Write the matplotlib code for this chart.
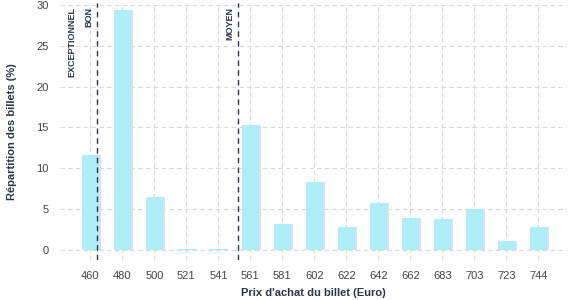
import matplotlib
matplotlib.use("Agg")
import matplotlib.pyplot as plt

prices = ["460", "480", "500", "521", "541", "561", "581", "602", "622",
          "642", "662", "683", "703", "723", "744"]
shares = [11.6, 29.4, 6.5, 0.1, 0.1, 15.3, 3.1, 8.3, 2.8, 5.7, 3.9, 3.7, 5.0, 1.1, 2.8]

# seuils (position sur l'axe des categories)
threshold_names = ["BON", "MOYEN"]
threshold_pos = [0.22, 4.62]

plt.rcParams["font.family"] = ["Liberation Sans", "DejaVu Sans"]
navy = "#2b3648"

fig = plt.figure(figsize=(5.77, 3.0), dpi=100)
ax = fig.add_axes([0.104, 0.133, 0.879, 0.857])

x = list(range(len(prices)))
ax.bar([i + 0.05 for i in x], shares, width=0.55, color="#e0e0e0", zorder=2)
ax.bar(x, shares, width=0.55, color="#aeeef8", zorder=3)

for name, pos in zip(threshold_names, threshold_pos):
    ax.axvline(pos, color=navy, linestyle=(0, (4, 3)), linewidth=1, zorder=4)
    ax.text(pos - 0.12, 29.8, name, rotation=90, ha="right", va="top",
            fontsize=6.5, fontweight="bold", color=navy)
ax.text(-0.45, 29.8, "EXCEPTIONNEL", rotation=90, ha="right", va="top",
        fontsize=6.5, fontweight="bold", color=navy)

ax.set_xticks(x)
ax.set_xticklabels(prices)
ax.set_yticks([0, 5, 10, 15, 20, 25, 30])
ax.set_xlim(-0.95, 14.9)
ax.set_ylim(-1.3, 30.3)
ax.grid(True, color="#d9d9d9", linestyle=(0, (4, 3)), linewidth=0.8, zorder=0)
ax.set_axisbelow(True)
for s in ax.spines.values():
    s.set_visible(False)
ax.tick_params(length=0, labelsize=8, colors="#444444", pad=8)
ax.set_xlabel("Prix d'achat du billet (Euro)", fontsize=8, fontweight="bold",
              color=navy, labelpad=5)
ax.set_ylabel("Répartition des billets (%)", fontsize=8, fontweight="bold",
              color=navy, labelpad=14)

fig.savefig("out.png", dpi=100)
